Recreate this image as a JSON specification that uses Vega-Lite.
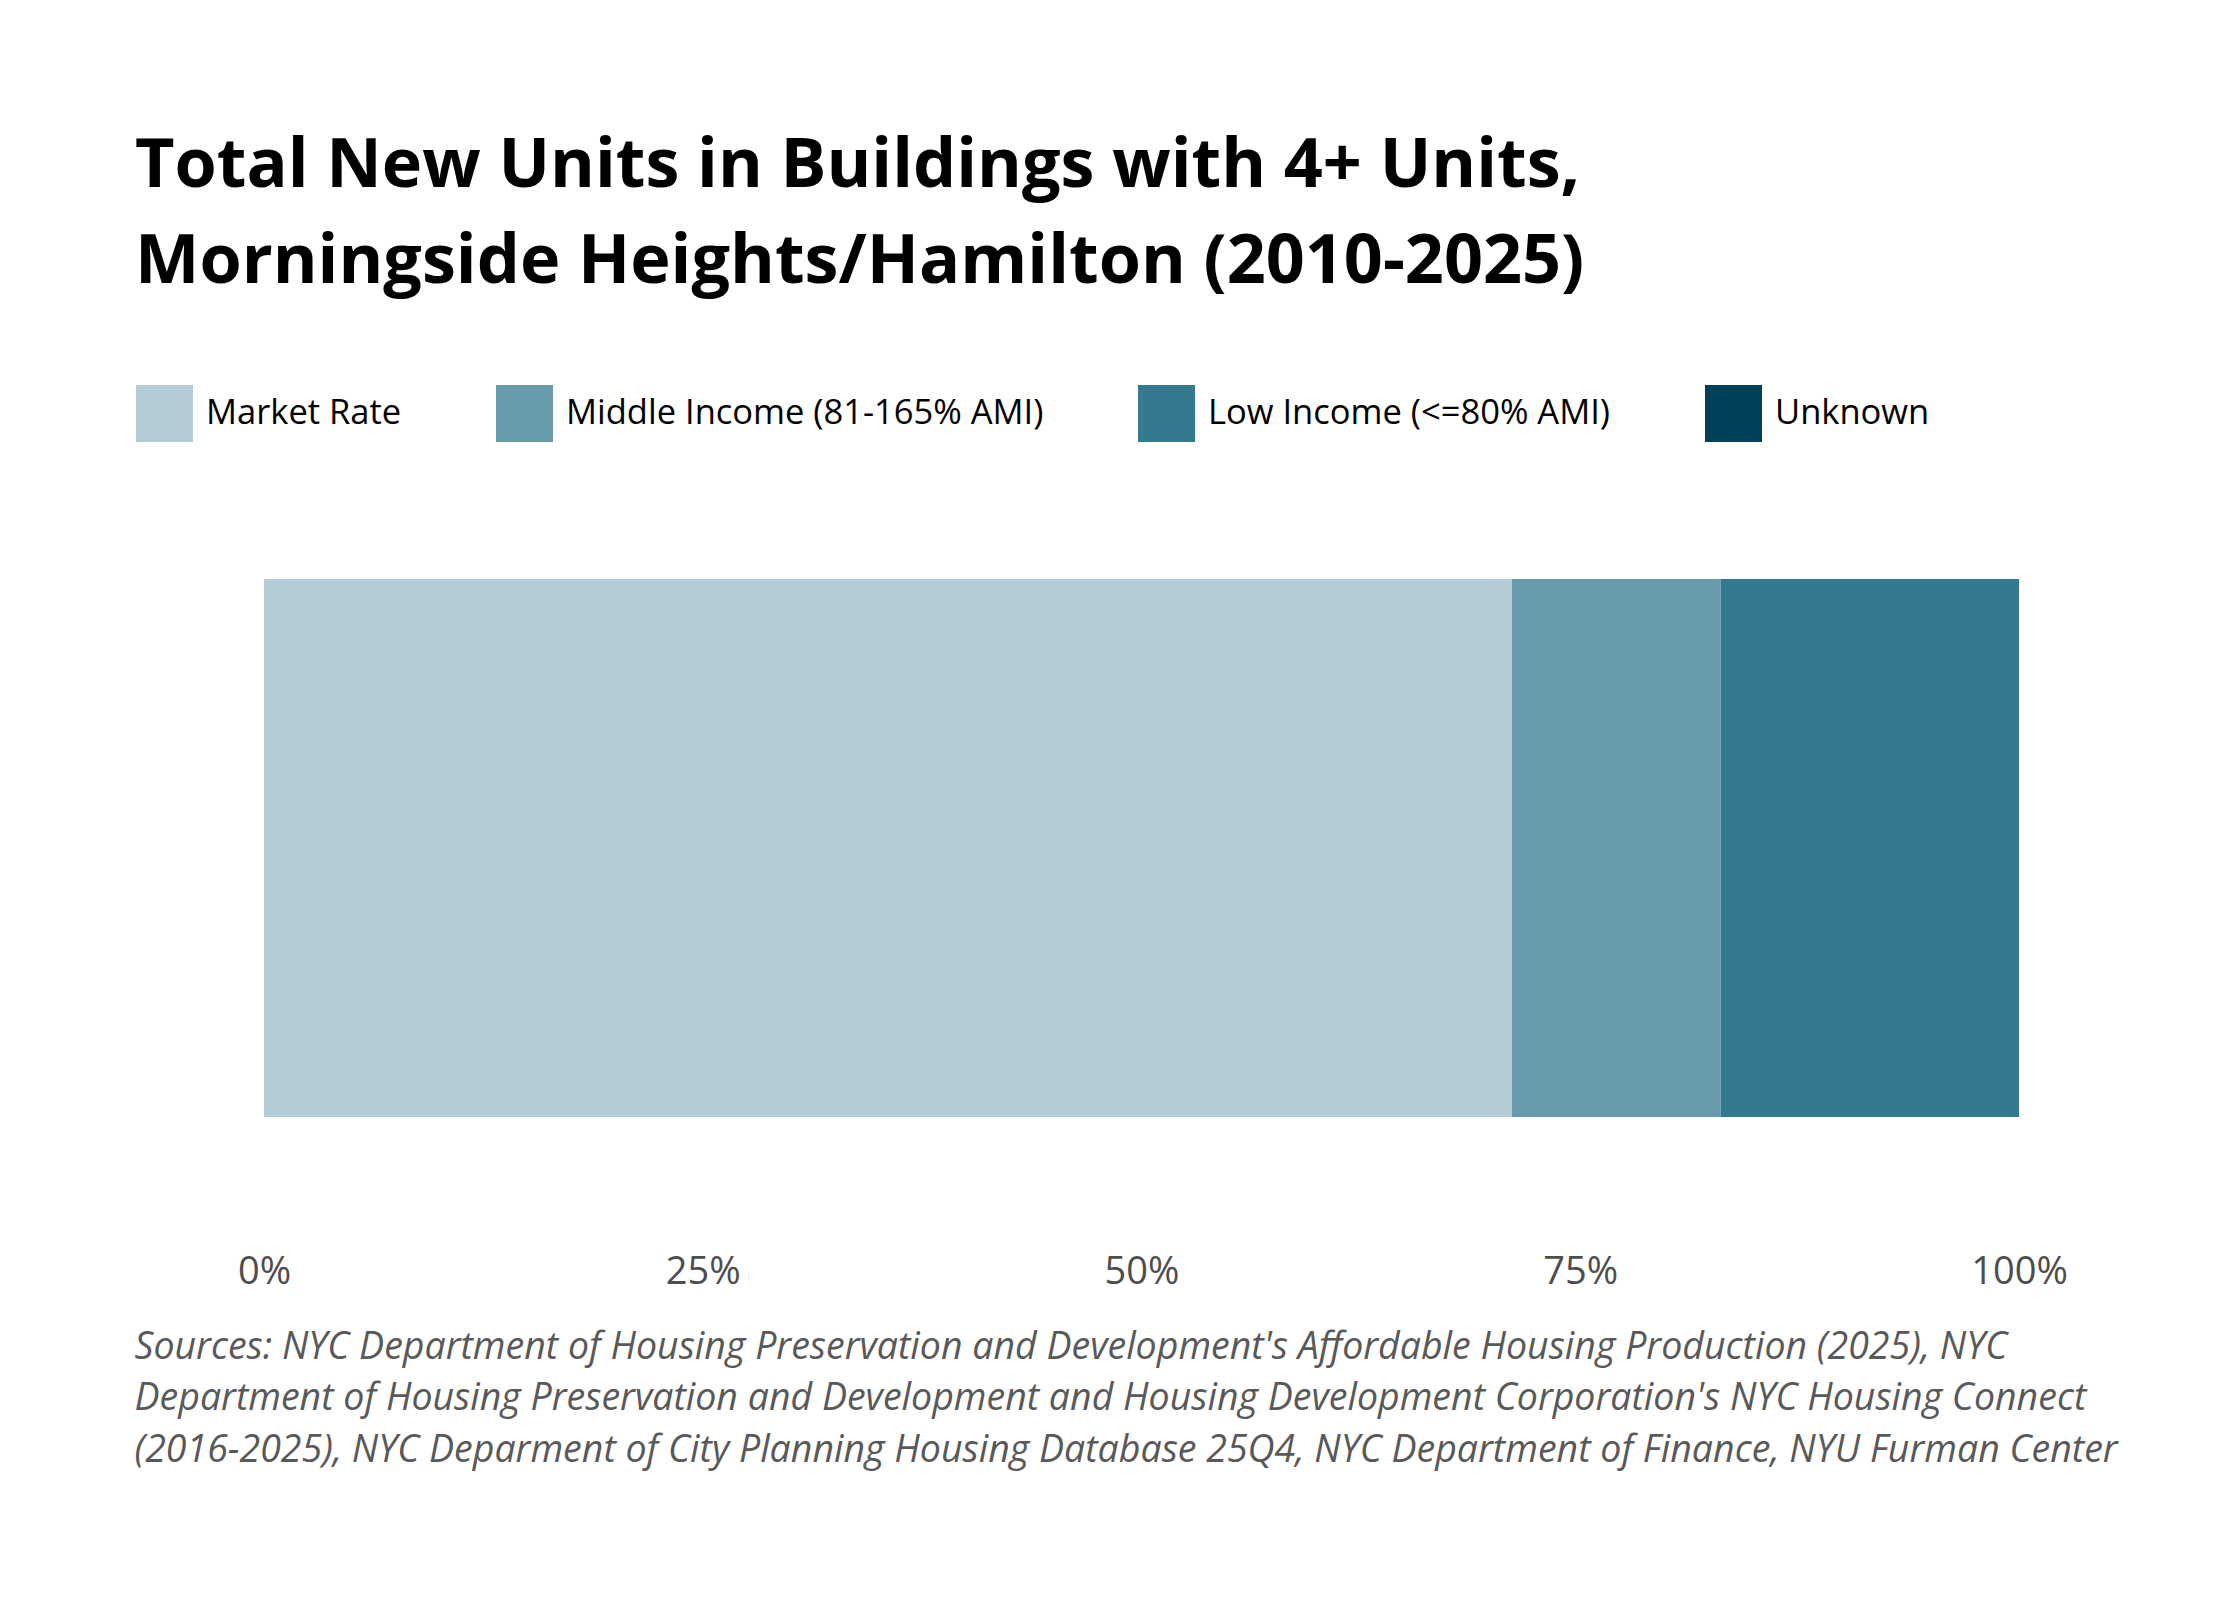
{
  "$schema": "https://vega.github.io/schema/vega-lite/v6.json",
  "autosize": {"type": "none"},
  "padding": {"left": 264, "top": 466, "right": 221, "bottom": 370},
  "width": 1755,
  "height": 764,
  "background": "white",
  "config": {
    "view": {"stroke": null},
    "font": "Open Sans"
  },
  "title": {
    "text": ["Total New Units in Buildings with 4+ Units,", "Morningside Heights/Hamilton (2010-2025)"],
    "anchor": "start",
    "frame": "group",
    "dx": -129,
    "font": "Open Sans",
    "fontSize": 68.3,
    "fontWeight": "bold",
    "color": "#000000",
    "lineHeight": 96,
    "baseline": "alphabetic",
    "offset": 34
  },
  "data": {
    "values": [
      {"group": "all", "rank": 1, "category": "Market Rate", "share": 0.711},
      {"group": "all", "rank": 2, "category": "Middle Income (81-165% AMI)", "share": 0.119},
      {"group": "all", "rank": 3, "category": "Low Income (<=80% AMI)", "share": 0.170},
      {"group": "all", "rank": 4, "category": "Unknown", "share": 0.0}
    ]
  },
  "mark": {"type": "bar"},
  "encoding": {
    "y": {
      "field": "group",
      "type": "nominal",
      "scale": {"paddingInner": 0, "paddingOuter": 0.21},
      "axis": null
    },
    "x": {
      "field": "share",
      "type": "quantitative",
      "stack": "zero",
      "scale": {"domain": [0, 1], "nice": false},
      "axis": {
        "values": [0, 0.25, 0.5, 0.75, 1],
        "format": ".0%",
        "grid": false,
        "domain": false,
        "ticks": false,
        "tickSize": 0,
        "labelFont": "Open Sans",
        "labelFontSize": 38,
        "labelColor": "#4d4d4d",
        "labelBaseline": "alphabetic",
        "labelPadding": 53,
        "labelFlush": false,
        "title": [
          "Sources: NYC Department of Housing Preservation and Development's Affordable Housing Production (2025), NYC",
          "Department of Housing Preservation and Development and Housing Development Corporation's NYC Housing Connect",
          "\u00a0(2016-2025), NYC Deparment of City Planning Housing Database 25Q4, NYC Department of Finance, NYU Furman Center"
        ],
        "titleFont": "Open Sans",
        "titleFontSize": 37.5,
        "titleFontStyle": "italic",
        "titleFontWeight": "normal",
        "titleColor": "#595959",
        "titleAlign": "left",
        "titleAnchor": "start",
        "titleBaseline": "alphabetic",
        "titleLineHeight": 51.5,
        "titleX": -130,
        "titleY": 128
      }
    },
    "order": {"field": "rank", "type": "quantitative"},
    "color": {
      "field": "category",
      "type": "nominal",
      "sort": ["Market Rate", "Middle Income (81-165% AMI)", "Low Income (<=80% AMI)", "Unknown"],
      "scale": {
        "domain": ["Market Rate", "Middle Income (81-165% AMI)", "Low Income (<=80% AMI)", "Unknown"],
        "range": ["#b4ccd6", "#679bac", "#33798f", "#02405a"]
      },
      "legend": {
        "title": null,
        "orient": "none",
        "legendX": -128,
        "legendY": -81,
        "direction": "horizontal",
        "columns": 4,
        "padding": 0,
        "symbolType": "square",
        "symbolSize": 3249,
        "symbolStrokeWidth": 0,
        "symbolOpacity": 1,
        "labelFont": "Open Sans",
        "labelFontSize": 34.5,
        "labelColor": "#000000",
        "labelOffset": 13,
        "labelLimit": 1000,
        "columnPadding": 94
      }
    }
  }
}
